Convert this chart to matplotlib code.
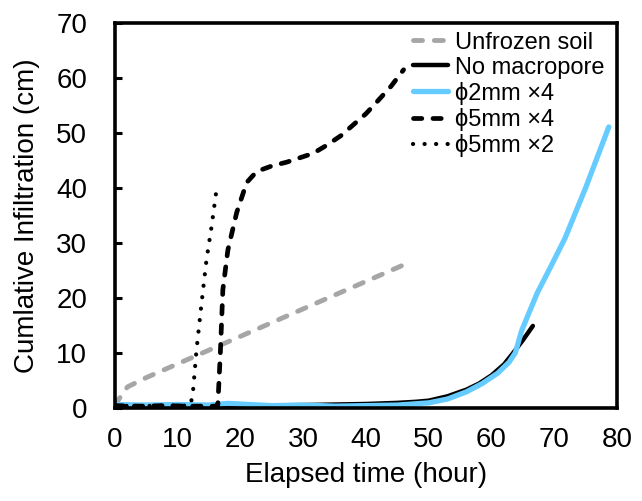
"""
Cumulative infiltration curves for frozen soil columns with macropores.
"""

import matplotlib
matplotlib.use('Agg')
import matplotlib.pyplot as plt

plt.rcParams['font.family'] = ['Liberation Sans', 'DejaVu Sans']
plt.rcParams['lines.scale_dashes'] = False

# Unfrozen soil
unfrozen_t = [0, 1, 2, 5, 10, 15, 20, 25, 30, 35, 40, 46]
unfrozen_y = [0.5, 2.2, 3.8, 5.5, 8.0, 10.5, 13.0, 15.5, 18.0, 20.5, 23.0, 26.0]

# No macropore
nomac_t = [0, 10, 20, 30, 40, 45, 48, 50, 53, 56, 58, 60, 62, 63.4, 65, 66.6]
nomac_y = [0.2, 0.3, 0.4, 0.5, 0.7, 0.9, 1.1, 1.3, 2.1, 3.3, 4.4, 5.9, 7.9,
           9.9, 12.3, 14.9]

# phi 2mm x 4
p2x4_t = [0, 5, 10, 15, 18, 25, 30, 35, 40, 45, 50, 53, 56, 58.5, 61, 62.8,
          63.8, 64.8, 65.7, 67.3, 69.5, 71.7, 75, 78.7]
p2x4_y = [0.6, 0.5, 0.6, 0.5, 0.8, 0.4, 0.5, 0.3, 0.4, 0.5, 0.9, 1.6, 2.9,
          4.4, 6.3, 8.3, 10.0, 14.0, 16.5, 20.9, 25.8, 30.8, 40.0, 51.1]

# phi 5mm x 4
p5x4_t = [0, 4, 8, 12, 16, 16.4, 16.8, 17.2, 18, 19.4, 21, 22.6, 25, 27.4,
          31.6, 33.8, 36, 38, 40, 41.7, 44, 46]
p5x4_y = [0.4, 0.3, 0.4, 0.3, 0.3, 0.5, 10.0, 21.5, 28.7, 35.5, 41.0, 43.0,
          44.0, 44.7, 46.3, 47.8, 49.5, 51.5, 53.5, 55.6, 58.5, 61.5]

# phi 5mm x 2
p5x2_t = [0, 4, 8, 12, 12.4, 13, 13.8, 14.6, 15.4, 16.2]
p5x2_y = [0.4, 0.3, 0.4, 0.4, 2.4, 10.5, 19.0, 27.0, 33.0, 39.8]

x_ticks = [0, 10, 20, 30, 40, 50, 60, 70, 80]
y_ticks = [0, 10, 20, 30, 40, 50, 60, 70]


def plot_infiltration(save_path='out.png'):
    fig = plt.figure(figsize=(6.42, 5.01), dpi=100)
    ax = fig.add_axes([0.179, 0.186, 0.782, 0.768])

    ax.plot(unfrozen_t, unfrozen_y, color='#A6A6A6', lw=3.5,
            dashes=(6.5, 8.5), dash_capstyle='round', label='Unfrozen soil')
    ax.plot(nomac_t, nomac_y, color='black', lw=3.2,
            solid_capstyle='round', label='No macropore')
    ax.plot(p2x4_t, p2x4_y, color='#66CCFF', lw=3.8,
            solid_capstyle='round', label='ϕ2mm ×4')
    ax.plot(p5x4_t, p5x4_y, color='black', lw=3.4,
            dashes=(6.0, 8.0), dash_capstyle='round', label='ϕ5mm ×4')
    ax.plot(p5x2_t, p5x2_y, color='black', lw=3.0,
            dashes=(0.1, 8.2), dash_capstyle='round', label='ϕ5mm ×2')

    ax.set_xlim(0, 80)
    ax.set_ylim(0, 70)
    ax.set_xticks(x_ticks)
    ax.set_yticks(y_ticks)
    ax.tick_params(axis='y', direction='in', length=5, width=2.2,
                   labelsize=20, pad=20)
    ax.tick_params(axis='x', direction='in', length=0, labelsize=20, pad=14)
    for s in ax.spines.values():
        s.set_linewidth(2.6)

    ax.set_xlabel('Elapsed time (hour)', fontsize=20)
    ax.set_ylabel('Cumlative Infiltration (cm)', fontsize=20)
    ax.xaxis.set_label_coords(0.5, -0.14)
    ax.yaxis.set_label_coords(-0.15, 0.5)

    ax.legend(loc='upper left', bbox_to_anchor=(0.643, 0.937),
              bbox_transform=fig.transFigure, frameon=False, fontsize=17,
              borderpad=0, borderaxespad=0, handlelength=1.5,
              handletextpad=0.3, labelspacing=0.13)

    fig.savefig(save_path, dpi=100)


plot_infiltration('out.png')
